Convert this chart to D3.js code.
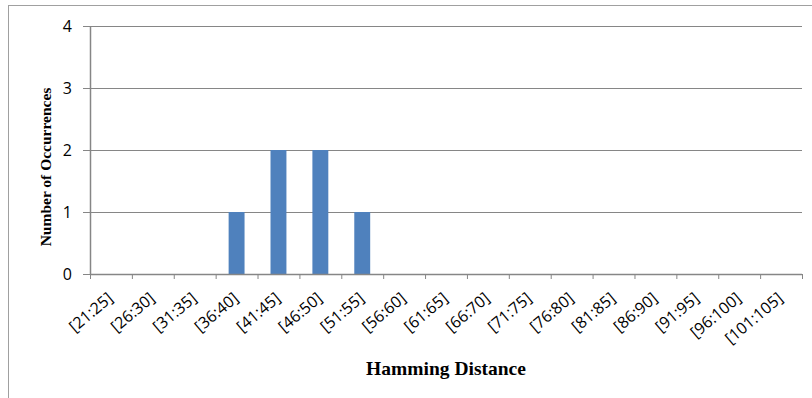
<!DOCTYPE html>
<html><head><meta charset="utf-8">
<script src="https://cdn.jsdelivr.net/npm/d3@7"></script>
<style>body{margin:0;background:#fff;}svg{display:block;}</style>
</head><body>
<svg id="c" width="812" height="398"></svg>
<script>
const categories = ["[21:25]","[26:30]","[31:35]","[36:40]","[41:45]","[46:50]","[51:55]","[56:60]","[61:65]","[66:70]","[71:75]","[76:80]","[81:85]","[86:90]","[91:95]","[96:100]","[101:105]"];
const values = [0,0,0,1,2,2,1,0,0,0,0,0,0,0,0,0,0];
const yTicks = [0,1,2,3,4];
const xTitle = "Hamming Distance";
const yTitle = "Number of Occurrences";

const svg = d3.select("#c");
const L = 90, R = 802, T = 26, B = 274;
const axisColor = "#868686";

// outer frame (top and left)
svg.append("line").attr("x1",8).attr("x2",812).attr("y1",5.5).attr("y2",5.5).attr("stroke","#a0a0a0");
svg.append("line").attr("x1",8.5).attr("x2",8.5).attr("y1",5).attr("y2",398).attr("stroke","#a0a0a0");

const x = d3.scaleBand().domain(categories).range([L,R]).paddingInner(0).paddingOuter(0);
const y = d3.scaleLinear().domain([0,4]).range([B,T]);

// gridlines + y ticks
const yAxis = svg.append("g").attr("transform",`translate(${L},0)`)
  .call(d3.axisLeft(y).tickValues(yTicks).tickSize(7).tickFormat(d3.format("d")));
yAxis.select(".domain").remove();
yAxis.selectAll(".tick line").attr("stroke",axisColor);
yAxis.selectAll(".tick text").attr("font-family","'Open Sans', sans-serif").attr("font-size",16).attr("fill","#000").attr("x",-18);
svg.append("g").selectAll("line").data(yTicks.filter(d=>d>0)).join("line")
  .attr("x1",L).attr("x2",R).attr("y1",d=>Math.round(y(d))+0.5).attr("y2",d=>Math.round(y(d))+0.5)
  .attr("stroke",axisColor).attr("stroke-width",1);

// bars
const bw = x.bandwidth()*0.38;
svg.append("g").selectAll("rect").data(values).join("rect")
  .attr("x",(d,i)=>x(categories[i])+x.bandwidth()/2-bw/2)
  .attr("width",bw)
  .attr("y",d=>y(d))
  .attr("height",d=>y(0)-y(d))
  .attr("fill","#4F81BD");

// y axis line
svg.append("line").attr("x1",L+0.5).attr("x2",L+0.5).attr("y1",T).attr("y2",B).attr("stroke",axisColor).attr("stroke-width",1.5);
// x axis line
svg.append("line").attr("x1",L).attr("x2",R).attr("y1",B+0.5).attr("y2",B+0.5).attr("stroke",axisColor).attr("stroke-width",1.5);
// x ticks at band boundaries
const bounds = categories.map(c=>x(c)).concat([R]);
svg.append("g").selectAll("line").data(bounds).join("line")
  .attr("x1",d=>d+0.5).attr("x2",d=>d+0.5).attr("y1",B).attr("y2",B+5).attr("stroke",axisColor);

// x labels
svg.append("g").selectAll("text").data(categories).join("text")
  .attr("transform",d=>`translate(${x(d)+x.bandwidth()/2+3},${B+26}) rotate(-40)`)
  .attr("text-anchor","end")
  .attr("font-family","'Open Sans', sans-serif").attr("font-size",16).attr("fill","#000")
  .text(d=>d);

// titles
svg.append("text").attr("x",(L+R)/2).attr("y",375).attr("text-anchor","middle")
  .attr("font-family","'Liberation Serif', serif").attr("font-weight","bold").attr("font-size",19.5)
  .text(xTitle);
svg.append("text").attr("transform",`translate(51,${(T+B)/2+17}) rotate(-90)`).attr("text-anchor","middle")
  .attr("font-family","'Liberation Serif', serif").attr("font-weight","bold").attr("font-size",15.5)
  .text(yTitle);
</script>
</body></html>
